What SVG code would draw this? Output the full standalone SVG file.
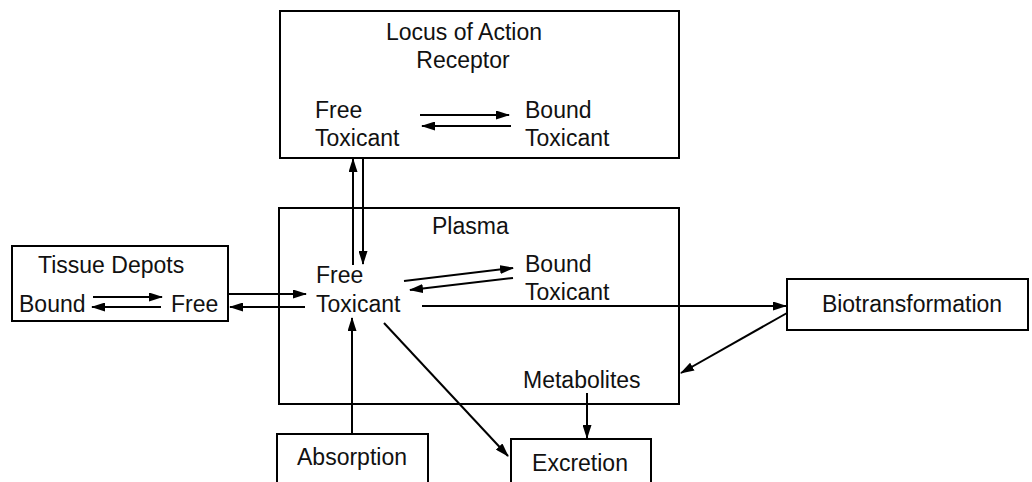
<svg xmlns="http://www.w3.org/2000/svg" width="1032" height="482" viewBox="0 0 1032 482">
<style>
.box{fill:#fff;stroke:#000;stroke-width:2}
.t{font-family:"Liberation Sans",Arial,sans-serif;font-size:23px;fill:#111}
.m{text-anchor:middle}
.c{stroke:#000;stroke-width:2;fill:none;marker-end:url(#ah)}
</style>
<defs>
<marker id="ah" markerUnits="userSpaceOnUse" markerWidth="14" markerHeight="9" refX="13" refY="4.5" orient="auto">
<path d="M0,0 L14,4.5 L0,9 z" fill="#000"/>
</marker>
</defs>
<rect width="1032" height="482" fill="#fff"/>
<g id="locus">
<rect class="box" x="280" y="11" width="399" height="147"/>
<text class="t m" x="464" y="40">Locus of Action</text>
<text class="t m" x="463" y="68">Receptor</text>
<text class="t" x="315" y="118">Free</text>
<text class="t" x="315" y="146">Toxicant</text>
<text class="t" x="525" y="118">Bound</text>
<text class="t" x="525" y="146">Toxicant</text>
</g>
<g id="plasma">
<rect class="box" x="279" y="208" width="400" height="196"/>
<text class="t" x="432" y="234">Plasma</text>
<text class="t" x="316" y="283">Free</text>
<text class="t" x="316" y="312">Toxicant</text>
<text class="t" x="525" y="272">Bound</text>
<text class="t" x="525" y="300">Toxicant</text>
<text class="t" x="523" y="388">Metabolites</text>
</g>
<g id="tissue">
<rect class="box" x="12" y="246" width="216" height="75"/>
<text class="t" x="38" y="273">Tissue Depots</text>
<text class="t" x="19" y="312">Bound</text>
<text class="t" x="171" y="312">Free</text>
</g>
<g id="biotransformation">
<rect class="box" x="787" y="279" width="241" height="51"/>
<text class="t m" x="912" y="312">Biotransformation</text>
</g>
<g id="absorption">
<rect class="box" x="277" y="434" width="151" height="52"/>
<text class="t m" x="352" y="465">Absorption</text>
</g>
<g id="excretion">
<rect class="box" x="511" y="439" width="140" height="47"/>
<text class="t m" x="580" y="471">Excretion</text>
</g>
<g id="connectors">
<line class="c" x1="420" y1="115" x2="509" y2="115"/>
<line class="c" x1="511" y1="126" x2="422" y2="126"/>
<line class="c" x1="353" y1="265" x2="353" y2="159"/>
<line class="c" x1="363" y1="158" x2="363" y2="264"/>
<line class="c" x1="404" y1="281" x2="513" y2="268"/>
<line class="c" x1="513" y1="278" x2="410" y2="290"/>
<line class="c" x1="93" y1="297" x2="162" y2="297"/>
<line class="c" x1="161" y1="307" x2="92" y2="307"/>
<line class="c" x1="229" y1="294" x2="306" y2="294"/>
<line class="c" x1="305" y1="307" x2="230" y2="307"/>
<line class="c" x1="422" y1="306" x2="786" y2="306"/>
<line class="c" x1="787" y1="313" x2="681" y2="373"/>
<line class="c" x1="384" y1="323" x2="508" y2="456"/>
<line class="c" x1="352" y1="434" x2="352" y2="318"/>
<line class="c" x1="587" y1="393" x2="587" y2="438"/>
</g>
</svg>
